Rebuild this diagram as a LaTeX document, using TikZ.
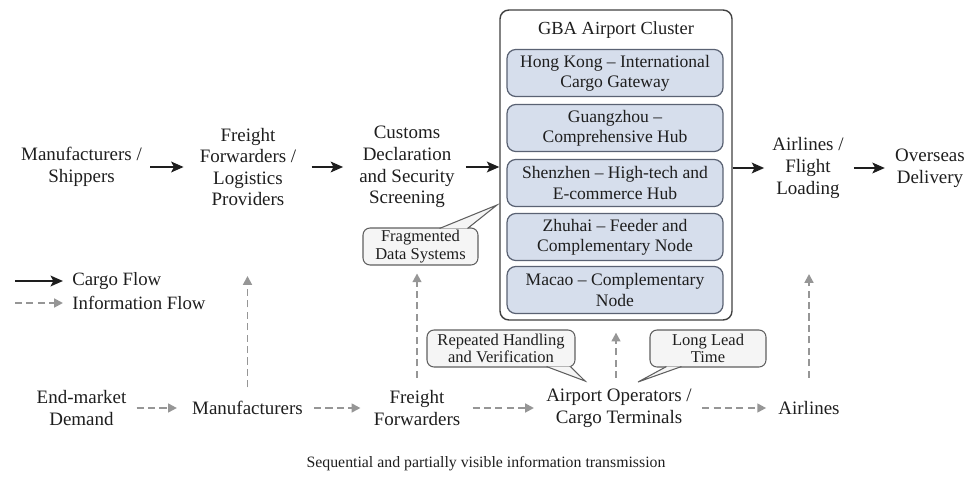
\documentclass[tikz,border=0pt]{standalone}
\usepackage{fontspec}
\setmainfont{Liberation Serif}
\usepackage{xcolor}
\usepackage{tikz}
\usetikzlibrary{positioning, arrows.meta, calc}
\definecolor{inkgray}{RGB}{30,30,30}
\definecolor{flowgray}{RGB}{150,150,150}
\definecolor{hubfill}{RGB}{214,222,236}
\definecolor{hubline}{RGB}{90,98,115}
\definecolor{notefill}{RGB}{245,245,245}
\definecolor{noteline}{RGB}{95,95,95}
\tikzset{
cargo/.style={-{Stealth[length=7pt,width=6pt,inset=1.5pt]}, line width=1.4pt, inkgray}, % solid arrows for the goods
info/.style={-{Triangle[length=5pt,width=5pt]}, line width=1.1pt, flowgray, dash pattern=on 4pt off 2.5pt}, % grey dashed arrows for the data
actor/.style={align=center, inner sep=0pt, text=inkgray, font=\fontsize{10.8}{12.3}\selectfont}, % plain text stations
hub/.style={draw=hubline, fill=hubfill, rounded corners=5pt, line width=0.7pt, align=center, minimum width=4.32cm, minimum height=0.94cm, inner sep=1pt, text=inkgray, font=\fontsize{10}{11.4}\selectfont}, % one airport of the cluster
cluster/.style={draw=black!75, rounded corners=5pt, line width=0.8pt, minimum width=4.64cm, minimum height=6.2cm}, % frame round the airports
note/.style={draw=noteline, fill=notefill, rounded corners=4pt, line width=0.6pt, align=center, minimum height=0.74cm, inner sep=1pt, text=inkgray, font=\fontsize{9.4}{10}\selectfont}, % problem callouts
notetail/.style={fill=notefill, draw=noteline, line width=0.6pt, line join=miter}, % pointer of a callout
}

\begin{document}
\begin{tikzpicture}[x=0.02cm, y=-0.02cm]
  \useasboundingbox (0,0) rectangle (972,476);

  % cargo chain
  \node[actor] (ship) at (81.5,167) {Manufacturers /\\Shippers};
  \node[actor] (fwd) at (248,167) {Freight\\Forwarders /\\Logistics\\Providers};
  \node[actor] (cust) at (407,167) {Customs\\Declaration\\and Security\\Screening};
  \node[actor] (air) at (808,168) {Airlines /\\Flight\\Loading};
  \node[actor] (over) at (930,168) {Overseas\\Delivery};

  % airport cluster
  \node[cluster] (gba) at (616,165) {};
  \node[text=inkgray, font=\fontsize{10.5}{12}\selectfont] (gbatitle) at (616,30) {GBA Airport Cluster};
  \node[hub] (hk) at (615,73) {Hong Kong -- International\\Cargo Gateway};
  \node[hub] (gz) at (615,128) {Guangzhou --\\Comprehensive Hub};
  \node[hub] (sz) at (615,183) {Shenzhen -- High-tech and\\E-commerce Hub};
  \node[hub] (zh) at (615,237) {Zhuhai -- Feeder and\\Complementary Node};
  \node[hub] (mo) at (615,290) {Macao -- Complementary\\Node};

  \draw[cargo, shorten <=4.5pt, shorten >=9pt] (ship) -- (fwd);
  \draw[cargo, shorten <=8.5pt, shorten >=9pt] (fwd) -- (cust);
  \draw[cargo, shorten <=6.2pt] (cust) -- (cust -| gba.west);
  \draw[cargo, shorten >=4.5pt] (gba.east |- air) -- (air);
  \draw[cargo, shorten <=5.7pt, shorten >=5.7pt] (air) -- (over);

  % legend
  \coordinate (cargoleg) at (15,281);
  \coordinate (cargolegend) at (63,281);
  \coordinate (infoleg) at (15,303);
  \coordinate (infolegend) at (63,303);
  \draw[cargo] (cargoleg) -- (cargolegend);
  \draw[info] (infoleg) -- (infolegend);
  \node[actor, anchor=west, font=\fontsize{10.7}{12}\selectfont] (cargotxt) at (72,281) {Cargo Flow};
  \node[actor, anchor=west, font=\fontsize{10.7}{12}\selectfont] (infotxt) at (72,303) {Information Flow};

  % information chain
  \node[actor] (demand) at (81.5,408) {End-market\\Demand};
  \node[actor] (mfr) at (247.5,408) {Manufacturers};
  \node[actor] (fwd2) at (417,408) {Freight\\Forwarders};
  \node[actor] (ops) at (619,408) {Airport Operators /\\Cargo Terminals};
  \node[actor] (airl) at (809,408) {Airlines};

  \draw[info, shorten <=5.7pt, shorten >=8.5pt] (demand) -- (mfr);
  \draw[info, shorten <=6.2pt, shorten >=7.4pt] (mfr) -- (fwd2);
  \draw[info, shorten <=6.8pt, shorten >=6.8pt] (fwd2) -- (ops);
  \draw[info, shorten <=5.7pt, shorten >=6.8pt] (ops) -- (airl);

  % callouts
  \node[note, minimum width=2.3cm] (frag) at (420.5,246.5) {Fragmented\\Data Systems};
  \coordinate (fragtip) at (497,205);
  \path[notetail] ($(frag.north west)+(77,1)$) -- (fragtip) -- ($(frag.north west)+(105,1)$);
  \node[note, minimum width=2.96cm] (handling) at (501,348.5) {Repeated Handling\\and Verification};
  \coordinate (handlingtip) at (585,381);
  \path[notetail] ($(handling.south west)+(120,-1)$) -- (handlingtip) -- ($(handling.south west)+(144,-1)$);
  \node[note, minimum width=2.32cm] (lead) at (708,348.5) {Long Lead\\Time};
  \coordinate (leadtip) at (638,382);
  \path[notetail] ($(lead.south west)+(17,-1)$) -- (leadtip) -- ($(lead.south west)+(32,-1)$);

  % data passed upwards
  \coordinate (fwdin) at (247.5,276);
  \coordinate (airin) at (809,274);
  \draw[info, shorten <=7.7pt] (mfr.north) -- (fwdin);
  \draw[info, shorten <=7pt, shorten >=4.5pt] (fwd2.north) -- (fwd2.north |- frag.south);
  \draw[info, shorten <=6pt, shorten >=6.8pt] (ops.north -| gba) -- (gba.south);
  \draw[info, shorten <=13.3pt] (airl.north) -- (airin);

  \node[text=inkgray, font=\fontsize{9}{10}\selectfont] (caption) at (486,464) {Sequential and partially visible information transmission};
\end{tikzpicture}
\end{document}
